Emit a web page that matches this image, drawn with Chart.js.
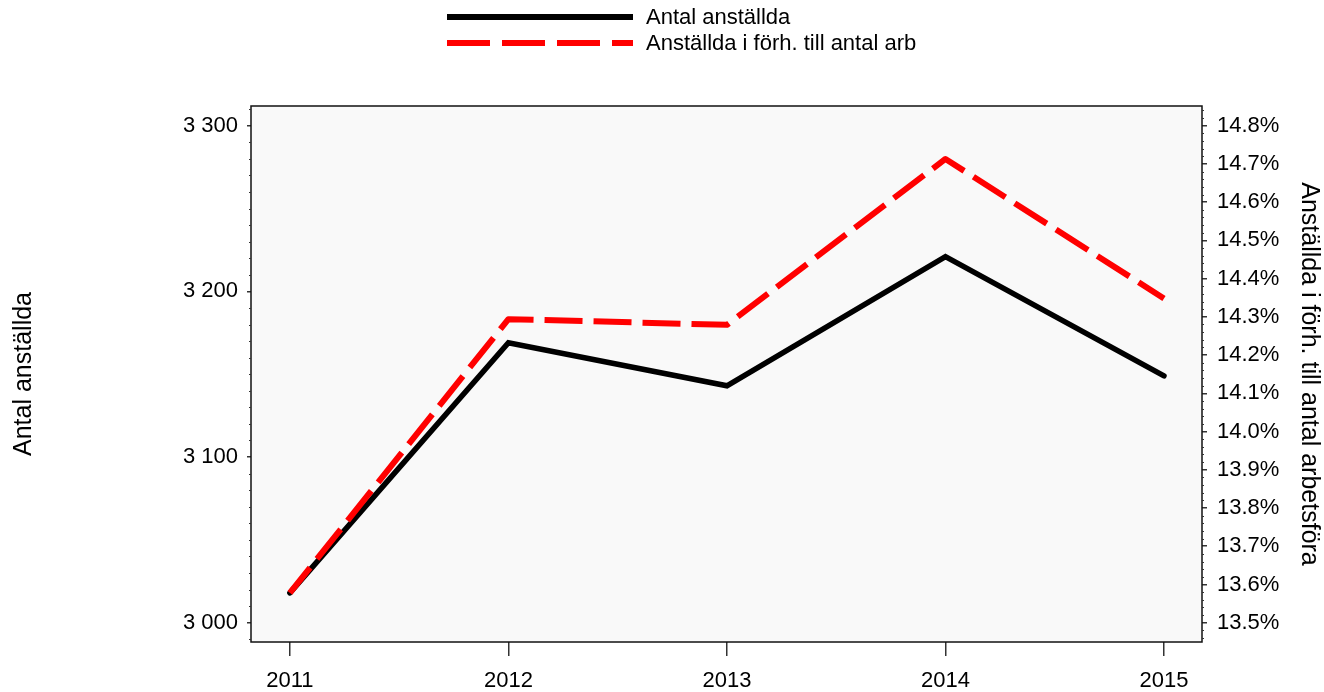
<!DOCTYPE html>
<html>
<head>
<meta charset="utf-8">
<script src="https://cdn.jsdelivr.net/npm/chart.js@4/dist/chart.umd.min.js"></script>
<style>
    html, body { margin: 0; padding: 0; background: #fff; }
    canvas { display: block; }
</style>
</head>
<body>
<canvas id="employeesChart" width="1324" height="692"></canvas>
<script>
// Data
const years = [2011, 2012, 2013, 2014, 2015];
const employees = [3018, 3169, 3143, 3221, 3149];
const employeeShare = [13.578, 14.294, 14.279, 14.713, 14.348];

const employeesLabel = 'Antal anställda';
const shareLabel = 'Anställda i förh. till antal arb';
const leftTitle = 'Antal anställda';
const rightTitle = 'Anställda i förh. till antal arbetsföra';

const FONT = 'Arial, "Liberation Sans", sans-serif';

function formatThousands(value) {
    return String(Math.round(value)).replace(/\B(?=(\d{3})+(?!\d))/g, ' ');
}

function toPoints(values) {
    return years.map((year, i) => ({ x: year, y: values[i] }));
}

// Plot background and frame
const framePlugin = {
    id: 'frame',
    beforeDraw(chart) {
        const { ctx, chartArea: a } = chart;
        ctx.save();
        ctx.fillStyle = '#f9f9f9';
        ctx.fillRect(a.left, a.top, a.right - a.left, a.bottom - a.top);
        ctx.restore();
    },
    afterDraw(chart) {
        const { ctx, chartArea: a } = chart;
        ctx.save();
        ctx.strokeStyle = '#111';
        ctx.lineWidth = 1.5;
        ctx.strokeRect(a.left, a.top, a.right - a.left, a.bottom - a.top);

        // minor ticks on both value axes
        ctx.lineWidth = 1;
        ctx.strokeStyle = '#333';
        const yl = chart.scales.y;
        for (let v = 2990; v <= 3310; v += 10) {
            if (v % 100 === 0) continue;
            const py = Math.round(yl.getPixelForValue(v)) + 0.5;
            ctx.beginPath();
            ctx.moveTo(a.left - 2, py);
            ctx.lineTo(a.left, py);
            ctx.stroke();
        }
        const yr = chart.scales.y1;
        for (let i = 1346; i <= 1484; i += 2) {
            if (i % 10 === 0) continue;
            const py = Math.round(yr.getPixelForValue(i / 100)) + 0.5;
            ctx.beginPath();
            ctx.moveTo(a.right, py);
            ctx.lineTo(a.right + 2, py);
            ctx.stroke();
        }
        ctx.restore();
    }
};

// Legend at the top, drawn from the dataset styles
const topLegendPlugin = {
    id: 'topLegend',
    afterDraw(chart) {
        const { ctx } = chart;
        const rows = [17, 43];
        ctx.save();
        chart.data.datasets.forEach((ds, i) => {
            const y = rows[i];
            ctx.beginPath();
            ctx.strokeStyle = ds.borderColor;
            ctx.lineWidth = 6;
            ctx.lineCap = 'butt';
            ctx.setLineDash(i === 1 ? [43, 12] : []);
            ctx.moveTo(447, y);
            ctx.lineTo(633, y);
            ctx.stroke();
            ctx.setLineDash([]);
            ctx.fillStyle = '#000';
            ctx.font = '22px ' + FONT;
            ctx.textBaseline = 'middle';
            ctx.textAlign = 'left';
            ctx.fillText(ds.label, 646, y + 1);
        });
        ctx.restore();
    }
};

const ctx = document.getElementById('employeesChart').getContext('2d');

new Chart(ctx, {
    type: 'line',
    data: {
        datasets: [{
            label: employeesLabel,
            data: toPoints(employees),
            yAxisID: 'y',
            borderColor: '#000',
            borderWidth: 5.5,
            borderCapStyle: 'round',
            borderJoinStyle: 'miter',
            pointRadius: 0,
            tension: 0,
            order: 2
        }, {
            label: shareLabel,
            data: toPoints(employeeShare),
            yAxisID: 'y1',
            borderColor: '#ff0000',
            borderWidth: 6,
            borderDash: [38, 11],
            borderDashOffset: 5.6,
            borderCapStyle: 'butt',
            borderJoinStyle: 'round',
            pointRadius: 0,
            tension: 0,
            order: 1
        }]
    },
    options: {
        responsive: false,
        animation: false,
        layout: { padding: { top: 106, left: 0, right: 0, bottom: 0 } },
        plugins: {
            legend: { display: false },
            tooltip: { enabled: false }
        },
        scales: {
            x: {
                type: 'linear',
                min: 2010.822,
                max: 2015.174,
                afterFit(scale) { scale.height = 50; },
                ticks: {
                    stepSize: 1,
                    includeBounds: false,
                    color: '#000',
                    padding: 12,
                    maxRotation: 0,
                    font: { family: FONT, size: 22 },
                    callback: v => String(v)
                },
                grid: {
                    drawOnChartArea: false,
                    tickLength: 14,
                    tickColor: '#333',
                    lineWidth: 1.5
                },
                border: { display: false }
            },
            y: {
                type: 'linear',
                position: 'left',
                min: 2988.35,
                max: 3311.9,
                afterFit(scale) { scale.width = 251; },
                ticks: {
                    stepSize: 100,
                    includeBounds: false,
                    color: '#000',
                    padding: 9,
                    font: { family: FONT, size: 22 },
                    callback: v => formatThousands(v)
                },
                grid: {
                    drawOnChartArea: false,
                    tickLength: 4,
                    tickColor: '#333',
                    lineWidth: 1.5
                },
                border: { display: false },
                title: {
                    display: true,
                    text: leftTitle,
                    color: '#000',
                    font: { family: FONT, size: 25 },
                    padding: { top: 9, bottom: 0 }
                }
            },
            y1: {
                type: 'linear',
                position: 'right',
                min: 13.4495,
                max: 14.8515,
                afterFit(scale) { scale.width = 122; },
                ticks: {
                    stepSize: 0.1,
                    includeBounds: false,
                    color: '#000',
                    padding: 10,
                    font: { family: FONT, size: 22 },
                    callback: v => v.toFixed(1) + '%'
                },
                grid: {
                    drawOnChartArea: false,
                    tickLength: 5,
                    tickColor: '#333',
                    lineWidth: 1.5
                },
                border: { display: false },
                title: {
                    display: true,
                    text: rightTitle,
                    color: '#000',
                    font: { family: FONT, size: 25 },
                    padding: { top: 0, bottom: 0 }
                }
            }
        }
    },
    plugins: [framePlugin, topLegendPlugin]
});
</script>
</body>
</html>
